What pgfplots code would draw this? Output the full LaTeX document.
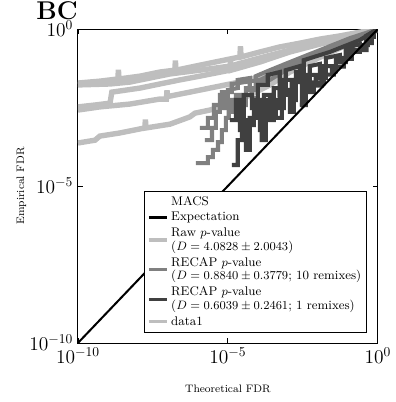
\documentclass[border=0pt]{standalone}
\usepackage{pgfplots}
\usepackage{pgfplotstable}
\pgfplotsset{compat=1.18}

\definecolor{rawgray}{RGB}{190,190,190}
\definecolor{tengray}{RGB}{128,128,128}
\definecolor{onegray}{RGB}{64,64,64}

% All curves are stored as log10 exponents (lx = log10 theoretical FDR, ly = log10 empirical FDR)
% Raw p-value curves
\pgfplotstableread{
lx ly
-10 -1.72
-9.27 -1.66
-8.67 -1.59
-8.65 -1.30
-8.63 -1.59
-7.93 -1.50
-7.27 -1.37
-6.77 -1.31
-6.75 -1.00
-6.73 -1.31
-5.93 -1.15
-5.27 -1.02
-4.60 -0.89
-4.58 -0.55
-4.56 -0.89
-3.93 -0.73
-3.27 -0.57
-2.60 -0.45
-1.93 -0.32
-1.27 -0.22
-0.60 -0.10
0 0
}\rawA
\pgfplotstableread{
lx ly
-10 -2.48
-9.43 -2.42
-8.93 -2.36
-8.87 -2.01
-7.93 -1.88
-7.27 -1.75
-6.60 -1.62
-5.93 -1.50
-4.93 -1.31
-4.91 -1.00
-4.89 -1.31
-3.93 -1.05
-2.93 -0.73
-1.93 -0.48
-0.93 -0.25
0 0
}\rawB
\pgfplotstableread{
lx ly
-10 -2.58
-9.27 -2.48
-8.27 -2.39
-7.27 -2.23
-7.05 -2.23
-7.03 -1.95
-7.01 -2.15
-6.27 -2.01
-5.60 -1.88
-4.93 -1.75
-4.27 -1.62
-3.27 -1.24
-2.60 -0.99
-1.60 -0.67
-0.60 -0.29
0 0
}\rawC
\pgfplotstableread{
lx ly
-10 -3.63
-9.43 -3.54
-9.27 -3.41
-8.60 -3.31
-7.77 -3.15
-7.75 -2.88
-7.73 -3.15
-6.93 -3.03
-6.27 -2.80
-6.10 -2.68
-5.60 -2.58
-4.93 -2.39
-4.27 -2.10
-3.60 -1.78
-2.93 -1.37
-2.27 -1.05
-1.27 -0.61
0 0
}\rawD
\pgfplotstableread{
lx ly
-10 -1.78
-8.93 -1.75
-8.27 -1.69
-7.60 -1.56
-6.93 -1.43
-5.93 -1.31
-4.93 -1.18
-3.93 -0.92
-2.93 -0.67
-1.93 -0.41
-0.93 -0.19
0 0
}\rawE

% RECAP, 10 remixes
\pgfplotstableread{
lx ly
-6.07 -4.27
-5.67 -4.27
-5.67 -4.08
-5.50 -4.08
-5.50 -3.85
-5.33 -3.85
-5.33 -3.60
-5.20 -3.60
-5.20 -3.22
-5.07 -3.22
-5.07 -2.83
-4.97 -2.83
-4.97 -2.26
-4.87 -2.26
-4.87 -2.64
-4.73 -2.64
-4.73 -2.10
-4.60 -2.10
-4.60 -2.42
-4.40 -2.42
-4.40 -1.88
-4.20 -1.88
-4.20 -2.20
-4.00 -2.20
-4.00 -1.69
-3.60 -1.62
-3.27 -1.43
-2.60 -1.05
-1.60 -0.67
-0.60 -0.29
0 0
}\tenA
\pgfplotstableread{
lx ly
-5.77 -3.54
-5.53 -3.54
-5.53 -3.15
-5.40 -3.15
-5.40 -2.64
-5.27 -2.64
-5.27 -2.10
-5.13 -2.10
-5.13 -2.52
-5.00 -2.52
-5.00 -1.94
-4.67 -1.88
-4.67 -1.62
-4.27 -1.56
-4.27 -1.94
-4.07 -1.94
-4.07 -1.50
-3.60 -1.31
-2.93 -1.05
-1.93 -0.67
-0.93 -0.29
0 0
}\tenB
\pgfplotstableread{
lx ly
-5.93 -3.15
-5.67 -3.15
-5.67 -2.83
-5.47 -2.83
-5.47 -2.42
-5.20 -2.42
-5.20 -2.01
-4.87 -2.01
-4.87 -1.75
-3.93 -1.62
-3.27 -1.31
-2.27 -0.92
-1.27 -0.51
0 0
}\tenC

% RECAP, 1 remix
\pgfplotstableread{
lx ly
-4.87 -4.33
-4.67 -4.33
-4.67 -3.54
-4.53 -3.54
-4.53 -2.90
-4.40 -2.90
-4.40 -3.85
-4.27 -3.85
-4.27 -2.83
-4.07 -2.83
-4.07 -2.26
-3.93 -2.26
-3.93 -3.22
-3.80 -3.22
-3.80 -2.10
-3.60 -2.10
-3.60 -2.90
-3.47 -2.90
-3.47 -1.88
-3.27 -1.88
-3.27 -2.52
-3.13 -2.52
-3.13 -1.62
-2.87 -1.62
-2.87 -2.26
-2.73 -2.26
-2.73 -1.37
-2.47 -1.37
-2.47 -1.94
-2.27 -1.94
-2.27 -1.18
-1.93 -1.11
-1.93 -1.56
-1.73 -1.56
-1.73 -0.92
-1.27 -0.83
-1.27 -1.05
-1.07 -1.05
-1.07 -0.61
-0.60 -0.48
-0.60 -0.57
-0.40 -0.57
-0.40 -0.22
0 0
}\oneA
\pgfplotstableread{
lx ly
-4.43 -3.85
-4.27 -3.85
-4.27 -3.06
-4.13 -3.06
-4.13 -2.58
-3.87 -2.58
-3.87 -3.54
-3.73 -3.54
-3.73 -2.26
-3.40 -2.26
-3.40 -2.83
-3.20 -2.83
-3.20 -1.94
-2.93 -1.94
-2.93 -2.64
-2.80 -2.64
-2.80 -1.69
-2.53 -1.69
-2.53 -2.39
-2.40 -2.39
-2.40 -1.46
-2.07 -1.46
-2.07 -1.80
-1.87 -1.80
-1.87 -1.18
-1.53 -1.18
-1.53 -1.35
-1.40 -1.35
-1.40 -0.92
-0.93 -0.92
-0.93 -0.67
-0.37 -0.67
-0.37 -0.45
-0.20 -0.45
-0.20 -0.19
0 0
}\oneB
\pgfplotstableread{
lx ly
-4.93 -2.90
-4.73 -2.90
-4.73 -2.26
-4.60 -2.26
-4.60 -3.22
-4.47 -3.22
-4.47 -2.10
-4.20 -2.10
-4.20 -2.52
-4.00 -2.52
-4.00 -1.78
-3.67 -1.78
-3.67 -1.46
-3.27 -1.37
-3.27 -2.10
-3.07 -2.10
-3.07 -1.31
-2.60 -1.18
-2.60 -1.62
-2.47 -1.62
-2.47 -0.99
-1.60 -0.73
-0.60 -0.35
0 0
}\oneC
\pgfplotstableread{
lx ly
-2.60 -2.42
-2.40 -2.42
-2.40 -2.01
-2.13 -2.01
-2.13 -1.70
-1.80 -1.70
-1.80 -1.45
-1.47 -1.45
-1.47 -1.20
-1.13 -1.20
-1.13 -0.95
-0.87 -0.95
-0.87 -0.73
-0.60 -0.73
-0.60 -0.51
-0.33 -0.51
-0.33 -0.25
-0.13 -0.25
-0.13 -0.10
0 0
}\oneD

\pgfplotsset{
  rawcurve/.style={rawgray, line width=4pt, forget plot},
  tencurve/.style={tengray, line width=3pt, forget plot},
  onecurve/.style={onegray, line width=3pt, forget plot},
}

\begin{document}
\begin{tikzpicture}
\begin{axis}[
  name=ax,
  scale only axis,
  width=222pt, height=232.4pt,
  xmode=log, ymode=log,
  xmin=1e-10, xmax=1, ymin=1e-10, ymax=1,
  xtick={1e-10,1e-5,1}, ytick={1e-10,1e-5,1},
  xminorticks=false, yminorticks=false,
  tick align=inside,
  major tick length=3.7pt,
  axis line style={line width=0.7pt},
  tick style={line width=0.6pt, black},
  tick label style={font=\Large},
  xlabel={Theoretical FDR},
  ylabel={Empirical FDR},
  label style={font=\footnotesize},
  xlabel style={yshift=-9pt},
  ylabel style={yshift=-4.4pt},
  legend cell align=left,
  legend image code/.code={\draw[#1] (0cm,0cm) -- (0.47cm,0cm);},
  legend style={
    at={(1,0)}, anchor=south east, xshift=-8pt, yshift=7.4pt,
    draw=black, line width=0.6pt,
    font=\fontsize{9.3}{10.2}\selectfont,
    cells={anchor=west, align=left, inner xsep=0.8pt, inner ysep=0.2pt},
    row sep=-0.4pt, inner sep=2pt,
  },
  every axis plot/.append style={line join=miter, miter limit=3},
]
% raw p-value curves
\addplot[rawcurve] table[x expr=10^\thisrow{lx}, y expr=10^\thisrow{ly}] {\rawD};
\addplot[rawcurve] table[x expr=10^\thisrow{lx}, y expr=10^\thisrow{ly}] {\rawC};
\addplot[rawcurve] table[x expr=10^\thisrow{lx}, y expr=10^\thisrow{ly}] {\rawB};
\addplot[rawcurve] table[x expr=10^\thisrow{lx}, y expr=10^\thisrow{ly}] {\rawE};
\addplot[rawcurve] table[x expr=10^\thisrow{lx}, y expr=10^\thisrow{ly}] {\rawA};
% RECAP with 10 remixes
\addplot[tencurve] table[x expr=10^\thisrow{lx}, y expr=10^\thisrow{ly}] {\tenC};
\addplot[tencurve] table[x expr=10^\thisrow{lx}, y expr=10^\thisrow{ly}] {\tenB};
\addplot[tencurve] table[x expr=10^\thisrow{lx}, y expr=10^\thisrow{ly}] {\tenA};
% RECAP with 1 remix
\addplot[onecurve] table[x expr=10^\thisrow{lx}, y expr=10^\thisrow{ly}] {\oneC};
\addplot[onecurve] table[x expr=10^\thisrow{lx}, y expr=10^\thisrow{ly}] {\oneB};
\addplot[onecurve] table[x expr=10^\thisrow{lx}, y expr=10^\thisrow{ly}] {\oneA};
\addplot[onecurve] table[x expr=10^\thisrow{lx}, y expr=10^\thisrow{ly}] {\oneD};
% expectation
\addplot[black, line width=1.5pt, forget plot] coordinates {(1e-10,1e-10) (1,1)};

\addlegendimage{empty legend}
\addlegendentry{MACS}
\addlegendimage{black, line width=1.6pt}
\addlegendentry{Expectation}
\addlegendimage{rawgray, line width=2.4pt}
\addlegendentry{Raw $p$-value\\($D = 4.0828 \pm 2.0043$)}
\addlegendimage{tengray, line width=2.4pt}
\addlegendentry{RECAP $p$-value\\($D = 0.8840 \pm 0.3779$; 10 remixes)}
\addlegendimage{onegray, line width=2.4pt}
\addlegendentry{RECAP $p$-value\\($D = 0.6039 \pm 0.2461$; 1 remixes)}
\addlegendimage{rawgray, line width=2.4pt}
\addlegendentry{data1}
\end{axis}
\node[anchor=base east, font=\fontsize{19}{22}\selectfont\bfseries, inner sep=0pt]
  at ([yshift=7.3pt]ax.north west) {BC};
\path[use as bounding box] ([xshift=-57.7pt,yshift=-43.7pt]ax.south west)
  rectangle ([xshift=12.6pt,yshift=21.5pt]ax.north east);
\end{tikzpicture}
\end{document}
